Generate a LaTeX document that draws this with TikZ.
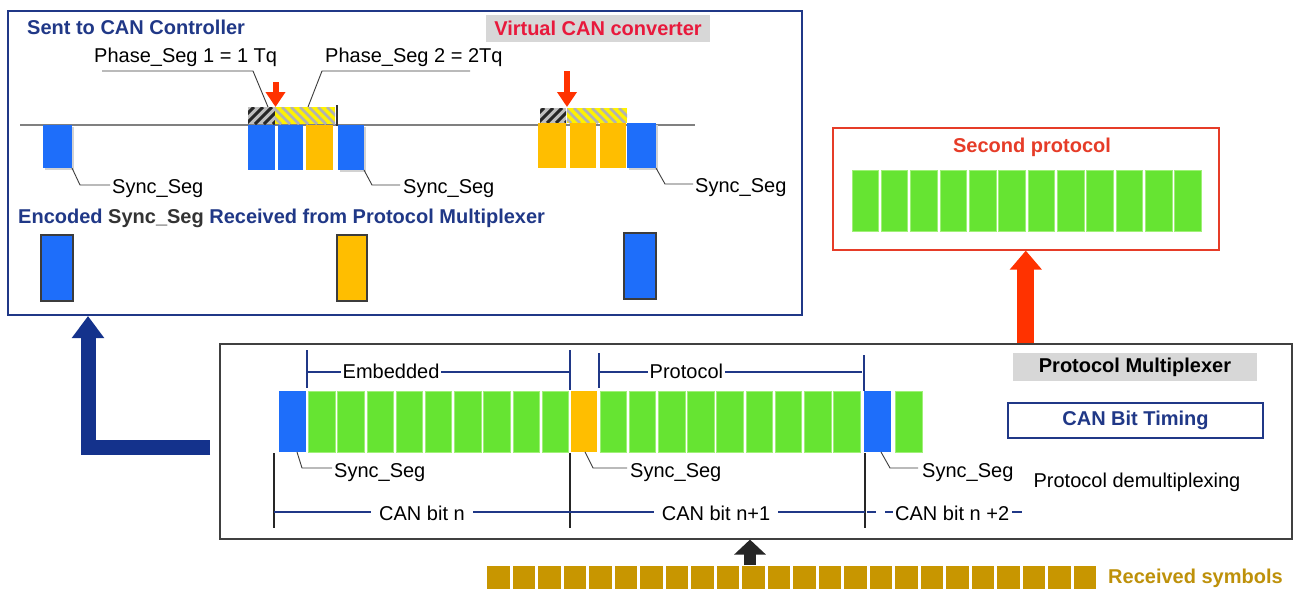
\documentclass[tikz,border=0pt]{standalone}
\usepackage{fontspec}
\setmainfont{Liberation Sans}
\usetikzlibrary{arrows.meta}
\definecolor{navy}{RGB}{32,56,135}
\definecolor{arrnavy}{RGB}{20,50,140}
\definecolor{blu}{RGB}{30,110,250}
\definecolor{org}{RGB}{255,190,0}
\definecolor{grn}{RGB}{102,228,50}
\definecolor{grnedge}{RGB}{160,240,120}
\definecolor{gold}{RGB}{200,150,0}
\definecolor{goldtxt}{RGB}{190,145,10}
\definecolor{crim}{RGB}{232,25,60}
\definecolor{redor}{RGB}{255,50,0}
\definecolor{boxred}{RGB}{230,60,40}
\definecolor{lgray}{RGB}{215,215,215}
\definecolor{dgray}{RGB}{60,60,60}
\newcommand{\stripesNE}[5]{% x1 y1 x2 y2 color
  \begin{scope}\clip (#1,#2) rectangle (#3,#4);
  \foreach \k in {-20,-11,...,80} {\draw[#5,line width=3pt] (#1+\k,#4) -- (#1+\k+#4-#2,#2);}
  \end{scope}}
\newcommand{\stripesNW}[5]{%
  \begin{scope}\clip (#1,#2) rectangle (#3,#4);
  \foreach \k in {-20,-11,...,80} {\draw[#5,line width=2.5pt] (#1+\k,#2) -- (#1+\k+#4-#2,#4);}
  \end{scope}}
\begin{document}
\begin{tikzpicture}[x=1pt,y=-1pt,
  txt/.style={font=\fontsize{20}{24}\selectfont, inner sep=0pt},
  btxt/.style={font=\fontsize{20}{24}\selectfont\bfseries, inner sep=0pt},
  lead/.style={draw=dgray, line width=0.9pt},
  navyline/.style={draw=navy, line width=1.6pt},
  tick/.style={draw=black!85, line width=1.4pt},
  bluearrow/.style={draw=arrnavy, line width=15pt, line join=miter, -{Triangle[width=31pt,length=22pt]}},
  redarrow/.style={draw=redor, line width=17pt, -{Triangle[width=31pt,length=19pt]}},
  blackarrow/.style={draw=black!85, line width=12pt, -{Triangle[width=31pt,length=15pt]}},
  smallred/.style={draw=redor, line width=6pt, -{Triangle[width=19pt,length=15pt]}},
  gblk/.style={fill=grn, draw=grnedge, line width=0.8pt},
  bblk/.style={fill=blu},
  oblk/.style={fill=org},
  eblk/.style={draw=dgray, line width=1.5pt}
]
\useasboundingbox (0,0) rectangle (1303,590);
\fill[white] (0,0) rectangle (1303,590);

% ---------- main boxes
\node[draw=navy, line width=2pt, minimum width=794pt, minimum height=304pt, anchor=north west, inner sep=0pt] (ctrl) at (7,10) {};
\node[draw=black!75, line width=1.6pt, minimum width=1072pt, minimum height=195pt, anchor=north west, inner sep=0pt] (mux) at (219,343) {};
\node[draw=boxred, line width=1.6pt, minimum width=386pt, minimum height=122pt, anchor=north west, inner sep=0pt] (second) at (832,127) {};

% ---------- top box texts
\node[btxt, text=navy, anchor=base west] (sent) at (27,34.5) {Sent to CAN Controller};
\node[btxt, text=crim, fill=lgray, minimum width=224pt, minimum height=27pt] (vcc) at (598,28.5) {Virtual CAN converter};
\node[txt, anchor=base west] (ph1) at (94,62) {Phase\_Seg 1 = 1 Tq};
\node[txt, anchor=base west] (ph2) at (325,62) {Phase\_Seg 2 = 2Tq};
\draw[lead] (102,71) -- (253,71) -- (268,107);
\draw[lead] (470,71) -- (322,71) -- (308,107);

% baseline
\draw[draw=gray, line width=1.5pt] (20,125) -- (695,125);

% hatched segments, group 2
\fill[gray!50] (248,107) rectangle (275,124);
\stripesNE{248}{107}{275}{124}{black!85}
\fill[yellow] (275,107) rectangle (335,124);
\stripesNW{275}{107}{335}{124}{gray!60}
\draw[draw=black!80, line width=1.5pt] (337,105) -- (337,126);
% hatched segments, group 3
\fill[gray!50] (540,108) rectangle (566,123);
\stripesNE{540}{108}{566}{123}{black!85}
\fill[yellow] (567,108) rectangle (627,123);
\stripesNW{567}{108}{627}{123}{gray!60}

% red arrows
\draw[smallred] (275.5,82) -- (275.5,107);
\draw[smallred] (567,71) -- (567,107);

% top blocks
\fill[gray!35] (45,127) rectangle (74,170);
\fill[bblk] (43,125) rectangle (72,168);
\fill[bblk] (248,125) rectangle (275,170);
\fill[bblk] (278,125) rectangle (303,170);
\fill[oblk] (306,125) rectangle (333,170);
\fill[gray!35] (340,127) rectangle (366,172);
\fill[bblk] (338,125) rectangle (364,170);
\fill[oblk] (538,123) rectangle (566,168);
\fill[oblk] (570,123) rectangle (596,168);
\fill[oblk] (600,123) rectangle (626,168);
\fill[gray!35] (629,125) rectangle (658,170);
\fill[bblk] (627,123) rectangle (656,168);

% Sync_Seg labels top
\draw[lead] (72,168) -- (80,185) -- (110,185);
\node[txt, anchor=base west] (ss1) at (112,193) {Sync\_Seg};
\draw[lead] (364,170) -- (372,185) -- (400,185);
\node[txt, anchor=base west] (ss2) at (403,193) {Sync\_Seg};
\draw[lead] (656,168) -- (665,184) -- (693,184);
\node[txt, anchor=base west] (ss3) at (695,192) {Sync\_Seg};

% encoded
\node[btxt, anchor=base west] (enc) at (18,223) {\color{navy}Encoded \color{black!80}Sync\_Seg \color{navy}Received from Protocol Multiplexer};
\filldraw[bblk, eblk] (41,235) rectangle (73,301);
\filldraw[oblk, eblk] (337,235) rectangle (367,301);
\filldraw[bblk, eblk] (624,233) rectangle (656,299);

% ---------- second protocol
\node[btxt, text=boxred] (sp) at (1032,147) {Second protocol};
\foreach \i in {0,...,11} {\filldraw[gblk] (852+\i*29.35,170) rectangle (852+\i*29.35+26.5,231);}

% ---------- mux content
\fill[bblk] (279,391) rectangle (306,452);
\foreach \i in {0,...,8} {\filldraw[gblk] (308.5+\i*29.2,391) rectangle (308.5+\i*29.2+26.5,452);}
\fill[oblk] (571,391) rectangle (597,452);
\foreach \i in {0,...,8} {\filldraw[gblk] (600+\i*29.2,391) rectangle (600+\i*29.2+26.5,452);}
\fill[bblk] (864,391) rectangle (891,452);
\filldraw[gblk] (895,391) rectangle (922,452);

% brackets
\draw[navyline] (307,350) -- (307,388);
\draw[navyline] (307,372) -- (570,372);
\draw[navyline] (570,350) -- (570,390);
\node[txt, anchor=base west, fill=white, inner xsep=1.5pt, inner ysep=1pt] (emb) at (341,378) {Embedded};
\draw[navyline] (599,353) -- (599,388);
\draw[navyline] (599,372) -- (862,372);
\draw[navyline] (864,355) -- (864,391);
\node[txt, anchor=base west, fill=white, inner xsep=1.5pt, inner ysep=1pt] (prot) at (648,378) {Protocol};

% Sync_Seg mux
\draw[lead] (297,452) -- (302,468) -- (332,468);
\node[txt, anchor=base west] (ms1) at (334,477) {Sync\_Seg};
\draw[lead] (585,452) -- (593,468) -- (627,468);
\node[txt, anchor=base west] (ms2) at (630,477) {Sync\_Seg};
\draw[lead] (881,452) -- (890,468) -- (918,468);
\node[txt, anchor=base west] (ms3) at (922,477) {Sync\_Seg};

% CAN bit line
\draw[tick] (274,453) -- (274,528);
\draw[tick] (570,453) -- (570,528);
\draw[tick] (865,453) -- (865,528);
\draw[navyline] (274,512) -- (865,512);
\node[txt, anchor=base, fill=white, inner xsep=8pt, inner ysep=2pt] (b1) at (422,520) {CAN bit n};
\node[txt, anchor=base, fill=white, inner xsep=8pt, inner ysep=2pt] (b2) at (716,520) {CAN bit n+1};
\draw[navyline] (867,512) -- (876,512);
\draw[navyline] (885,512) -- (893,512);
\node[txt, anchor=base west] (b3) at (895,520) {CAN bit n +2};
\draw[navyline] (1012,512) -- (1022,512);

% right labels
\node[btxt, fill=lgray, minimum width=244pt, minimum height=28pt] (pmx) at (1135,367) {Protocol Multiplexer};
\node[btxt, text=navy, draw=navy, line width=2pt, minimum width=255pt, minimum height=35pt] (cbt) at (1135.5,420.5) {CAN Bit Timing};
\node[txt] (dmx) at (1137,482) {Protocol demultiplexing};

% ---------- received symbols
\foreach \i in {0,...,23} {\fill[gold] (487+\i*25.5,566) rectangle (487+\i*25.5+22.5,589);}
\node[btxt, text=goldtxt, anchor=west] (rsym) at (1108,578) {Received symbols};
\coordinate (rs) at (750,565);

% ---------- arrows
\coordinate (lstart) at (210,447);
\draw[bluearrow] (lstart) -| ([xshift=81pt]ctrl.south west);
\draw[redarrow] (mux.north -| second.south) -- (second.south);
\draw[blackarrow] (rs) -- (rs |- mux.south);
\end{tikzpicture}
\end{document}
